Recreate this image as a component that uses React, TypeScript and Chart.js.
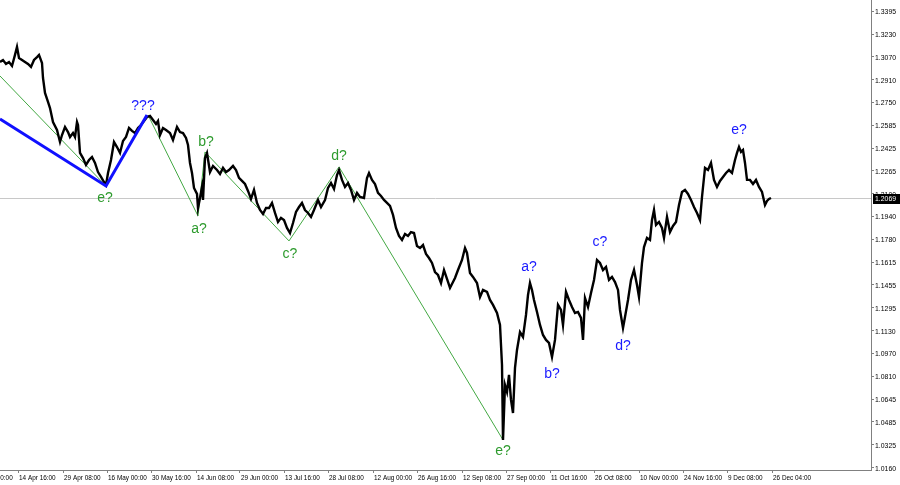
import React, { useEffect, useRef } from 'react';
import { Chart, registerables } from 'chart.js';
Chart.register(...registerables);

// Bar position (time index along the chart) and close price
const bars = [
  0, 3, 6, 9, 12, 15, 17, 19, 22, 25, 28, 31, 34, 37, 39, 42, 43, 45, 48, 50,
  53, 57, 60, 62, 65, 68, 70, 73, 75, 77, 78, 80, 83, 86, 89, 92, 95, 98, 101, 104,
  106, 108, 111, 114, 117, 120, 123, 126, 129, 132, 135, 138, 141, 144, 147, 150, 153, 156, 158,
  160, 163, 166, 170, 173, 177, 180, 183, 186, 188, 190, 192, 194, 197, 198, 200, 202, 203, 205, 207,
  210, 213, 217, 220, 223, 226, 229, 233, 236, 239, 242, 245, 248, 251, 254, 257, 260, 263, 266, 269,
  272, 275, 278, 281, 284, 287, 290, 293, 296,
  299, 302, 305, 308, 311, 314, 318, 321, 325, 328, 331, 334, 337, 339, 342, 345, 348, 351, 354, 357,
  360, 364, 367, 369, 372, 375, 378, 381, 384, 387, 390, 393, 396, 399, 402, 405, 408, 411, 414, 417,
  420, 423, 426, 429, 432, 435, 438, 441, 444, 447, 450,
  455, 458, 462, 465, 467, 470, 473, 477, 480, 483, 487, 490, 493, 497, 500, 502, 503, 505, 507, 509,
  511, 513, 515, 517, 520, 523, 526, 528, 530, 532, 534, 537, 540, 543, 546, 549, 552, 555, 558, 561,
  563, 566, 569, 572, 575, 578, 581, 583, 585, 588, 591, 594, 597, 600, 603, 606, 609, 612, 615, 618,
  620, 623, 625, 628, 631, 634, 637, 639, 642, 644, 647, 650, 652, 654, 656, 659, 662, 664, 667, 670,
  673, 676, 679, 682, 685, 688, 691, 694, 697, 700, 702, 705, 708, 711, 714, 717, 720, 723, 726, 729,
  732, 735, 737, 739, 741, 743, 745, 747, 750, 753, 756, 759, 762, 765, 767, 769, 771,
];
const closes = [
  1.3034, 1.3048, 1.3020, 1.3034, 1.3006, 1.3084, 1.3140, 1.3062, 1.3048, 1.3034, 1.3020, 1.2999, 1.3048, 1.3069, 1.3084, 1.3027, 1.2921, 1.2815, 1.2751, 1.2708,
  1.2609, 1.2553, 1.2468, 1.2517, 1.2574, 1.2538, 1.2503, 1.2531, 1.2503, 1.2609, 1.2588, 1.2390, 1.2354, 1.2305, 1.2340, 1.2361, 1.2319, 1.2255, 1.2220, 1.2184,
  1.2163, 1.2248, 1.2340, 1.2468, 1.2432, 1.2390, 1.2475, 1.2503, 1.2567, 1.2546, 1.2531, 1.2567, 1.2588, 1.2616, 1.2645, 1.2652, 1.2623, 1.2595, 1.2616,
  1.2517, 1.2567, 1.2553, 1.2531, 1.2482, 1.2574, 1.2538, 1.2531, 1.2496, 1.2446, 1.2319, 1.2248, 1.2142, 1.2100, 1.2000, 1.2071, 1.2149, 1.2057, 1.2354, 1.2390,
  1.2255, 1.2298, 1.2269, 1.2241, 1.2284, 1.2255, 1.2269, 1.2298, 1.2269, 1.2213, 1.2192, 1.2170, 1.2121, 1.2064, 1.2128, 1.2036, 1.1986, 1.1958, 1.2000, 1.2000,
  1.2036, 1.1965, 1.1901, 1.1930, 1.1915, 1.1859, 1.1823, 1.1894, 1.1972,
  1.2007, 1.2036, 1.1986, 1.1965, 1.1937, 1.1986, 1.2057, 1.2007, 1.2057, 1.2142, 1.2177, 1.2135, 1.2234, 1.2269, 1.2199, 1.2149, 1.2177, 1.2128, 1.2057, 1.2107,
  1.2078, 1.2071, 1.2213, 1.2248, 1.2199, 1.2170, 1.2107, 1.2085, 1.2057, 1.2036, 1.2015, 1.1951, 1.1859, 1.1802, 1.1774, 1.1816, 1.1802, 1.1830, 1.1823, 1.1731,
  1.1717, 1.1738, 1.1675, 1.1646, 1.1611, 1.1547, 1.1526, 1.1469, 1.1561, 1.1498, 1.1434,
  1.1505, 1.1561, 1.1632, 1.1717, 1.1682, 1.1540, 1.1512, 1.1469, 1.1370, 1.1420, 1.1406, 1.1349, 1.1314, 1.1257, 1.1172, 1.0889, 1.0358, 1.0747, 1.0698, 1.0818,
  1.0641, 1.0549, 1.0868, 1.0995, 1.1122, 1.1087, 1.1243, 1.1384, 1.1469, 1.1420, 1.1349, 1.1264, 1.1172, 1.1101, 1.1066, 1.1045, 1.0945, 1.1066, 1.1314, 1.1278,
  1.1172, 1.1406, 1.1349, 1.1299, 1.1257, 1.1264, 1.1222, 1.1066, 1.1363, 1.1299, 1.1399, 1.1491, 1.1632, 1.1611, 1.1561, 1.1583, 1.1491, 1.1512, 1.1476, 1.1420,
  1.1278, 1.1151, 1.1229, 1.1349, 1.1491, 1.1561, 1.1455, 1.1370, 1.1611, 1.1724, 1.1788, 1.1774, 1.1915, 1.1986, 1.1880, 1.1901, 1.1859, 1.1788, 1.1937, 1.1830,
  1.1873, 1.1901, 1.2022, 1.2114, 1.2128, 1.2100, 1.2057, 1.2007, 1.1965, 1.1915, 1.2078, 1.2284, 1.2269, 1.2319, 1.2199, 1.2149, 1.2192, 1.2220, 1.2248, 1.2269,
  1.2248, 1.2340, 1.2390, 1.2432, 1.2397, 1.2411, 1.2319, 1.2199, 1.2199, 1.2170, 1.2199, 1.2149, 1.2114, 1.2022, 1.2050, 1.2064, 1.2071,
];

// Wave markup
const blueWaveBars = [0, 106, 147];
const blueWavePrices = [1.2631, 1.2156, 1.2659];
const greenWave1Bars = [0, 106];
const greenWave1Prices = [1.2935, 1.2156];
const greenWave2Bars = [148, 198, 205, 289, 339, 503];
const greenWave2Prices = [1.2659, 1.1944, 1.2397, 1.1767, 1.2291, 1.0358];

const labelTexts = ['e?', '???', 'b?', 'a?', 'c?', 'd?', 'e?', 'a?', 'b?', 'c?', 'd?', 'e?'];
const labelBars = [105, 143, 206, 199, 290, 339, 503, 529, 552, 600, 623, 739];
const labelPrices = [1.2071, 1.2723, 1.2468, 1.1852, 1.1675, 1.2369, 1.0280, 1.1583, 1.0825, 1.1760, 1.1023, 1.2553];
const labelColors = ['green', 'blue', 'green', 'green', 'green', 'green', 'green', 'blue', 'blue', 'blue', 'blue', 'blue'];

// Axes
const xTickBars = [18, 63, 107, 151, 196, 240, 284, 328, 373, 417, 462, 506, 550, 594, 639, 683, 727, 772];
const xTickLabels = [
  '14 Apr 16:00', '29 Apr 08:00', '16 May 00:00', '30 May 16:00', '14 Jun 08:00', '29 Jun 00:00',
  '13 Jul 16:00', '28 Jul 08:00', '12 Aug 00:00', '26 Aug 16:00', '12 Sep 08:00', '27 Sep 00:00',
  '11 Oct 16:00', '26 Oct 08:00', '10 Nov 00:00', '24 Nov 16:00', '9 Dec 08:00', '26 Dec 04:00',
];
const hiddenTickBar = -26;
const hiddenTickLabel = '31 Mar 00:00';
const yTicks = [1.3395, 1.3230, 1.3070, 1.2910, 1.2750, 1.2585, 1.2425, 1.2265, 1.2100, 1.1940, 1.1780,
  1.1615, 1.1455, 1.1295, 1.1130, 1.0970, 1.0810, 1.0645, 1.0485, 1.0325, 1.0160];
const yMin = 1.0145;
const yMax = 1.3473;
const xMin = 0;
const xMax = 871;
const currentPrice = 1.2069;

const TICK_FONT = "8px 'Liberation Sans', Arial, sans-serif";
const LABEL_FONT = "14px 'Liberation Sans', Arial, sans-serif";
const GREEN_TEXT = '#2e9b2e';
const BLUE_TEXT = '#1a1aff';

function drawNarrow(ctx: CanvasRenderingContext2D, text: string, x: number, y: number, sx: number) {
  ctx.save();
  ctx.translate(x, y);
  ctx.scale(sx, 1);
  ctx.fillText(text, 0, 0);
  ctx.restore();
}

export default function App() {
  const ref = useRef<HTMLCanvasElement>(null);
  useEffect(() => {
    document.body.style.margin = '0';
    const canvas = ref.current!;
    const overlay = {
      id: 'mtOverlay',
      beforeDatasetsDraw(chart: any) {
        const { ctx, chartArea, scales } = chart;
        const y = Math.round(scales.y.getPixelForValue(currentPrice)) + 0.5;
        ctx.save();
        ctx.strokeStyle = '#c8c8c8';
        ctx.lineWidth = 1;
        ctx.beginPath();
        ctx.moveTo(chartArea.left, y);
        ctx.lineTo(chartArea.right, y);
        ctx.stroke();
        ctx.restore();
      },
      afterDatasetsDraw(chart: any) {
        const { ctx, scales } = chart;
        ctx.save();
        ctx.font = LABEL_FONT;
        ctx.textAlign = 'center';
        ctx.textBaseline = 'middle';
        labelTexts.forEach((t, i) => {
          ctx.fillStyle = labelColors[i] === 'green' ? GREEN_TEXT : BLUE_TEXT;
          ctx.fillText(t, scales.x.getPixelForValue(labelBars[i]), scales.y.getPixelForValue(labelPrices[i]));
        });
        ctx.restore();
      },
      afterDraw(chart: any) {
        const { ctx, chartArea, scales } = chart;
        ctx.save();
        ctx.font = TICK_FONT;
        ctx.textAlign = 'left';
        ctx.textBaseline = 'middle';
        ctx.fillStyle = '#000';
        // y tick labels
        yTicks.forEach((v) => {
          drawNarrow(ctx, v.toFixed(4), chartArea.right + 4, Math.round(scales.y.getPixelForValue(v)) + 0.5, 0.86);
        });
        // x tick labels
        const ly = chartArea.bottom + 8;
        xTickBars.forEach((b, i) => {
          drawNarrow(ctx, xTickLabels[i], scales.x.getPixelForValue(b) + 1, ly, 0.8);
        });
        drawNarrow(ctx, hiddenTickLabel, scales.x.getPixelForValue(hiddenTickBar) + 1, ly, 0.8);
        // price tag
        const y = Math.round(scales.y.getPixelForValue(currentPrice));
        ctx.fillStyle = '#000';
        ctx.fillRect(chartArea.right + 2, y - 4, 27, 10);
        ctx.fillStyle = '#fff';
        drawNarrow(ctx, currentPrice.toFixed(4), chartArea.right + 4, y + 1, 0.86);
        ctx.restore();
      },
    };

    const chart = new Chart(canvas, {
      type: 'line',
      data: {
        datasets: [
          {
            label: 'blue wave',
            data: blueWaveBars.map((b, i) => ({ x: b, y: blueWavePrices[i] })),
            borderColor: '#1010ff',
            borderWidth: 3,
            pointRadius: 0,
          },
          {
            label: 'price',
            data: bars.map((b, i) => ({ x: b, y: closes[i] })),
            borderColor: '#000',
            borderWidth: 2.4,
            pointRadius: 0,
            tension: 0,
          },
          {
            label: 'green wave 1',
            data: greenWave1Bars.map((b, i) => ({ x: b, y: greenWave1Prices[i] })),
            borderColor: '#43a843',
            borderWidth: 1,
            pointRadius: 0,
          },
          {
            label: 'green wave 2',
            data: greenWave2Bars.map((b, i) => ({ x: b, y: greenWave2Prices[i] })),
            borderColor: '#43a843',
            borderWidth: 1,
            pointRadius: 0,
          },
        ],
      },
      options: {
        animation: false,
        responsive: false,
        devicePixelRatio: 1,
        layout: { padding: 0 },
        plugins: { legend: { display: false }, tooltip: { enabled: false }, title: { display: false } },
        scales: {
          x: {
            type: 'linear',
            position: 'bottom',
            min: xMin,
            max: xMax,
            afterBuildTicks: (s: any) => { s.ticks = xTickBars.map((v) => ({ value: v })); },
            afterFit: (s: any) => { s.height = 15; s.paddingLeft = 0; s.paddingRight = 0; },
            ticks: { display: false, autoSkip: false, maxRotation: 0, minRotation: 0 },
            grid: { drawOnChartArea: false, drawTicks: true, tickLength: 3, color: '#808080' },
            border: { display: true, color: '#808080', width: 1 },
          },
          y: {
            type: 'linear',
            position: 'right',
            min: yMin,
            max: yMax,
            afterBuildTicks: (s: any) => { s.ticks = yTicks.map((v) => ({ value: v })); },
            afterFit: (s: any) => { s.width = 29; s.paddingTop = 0; s.paddingBottom = 0; },
            ticks: { display: false, autoSkip: false },
            grid: { drawOnChartArea: false, drawTicks: true, tickLength: 3, color: '#808080' },
            border: { display: true, color: '#808080', width: 1 },
          },
        },
      } as any,
      plugins: [overlay],
    });
    return () => chart.destroy();
  }, []);
  return (
    <div style={{ width: 900, height: 485, background: '#fff' }}>
      <canvas ref={ref} width={900} height={485} style={{ display: 'block', width: 900, height: 485 }} />
    </div>
  );
}
